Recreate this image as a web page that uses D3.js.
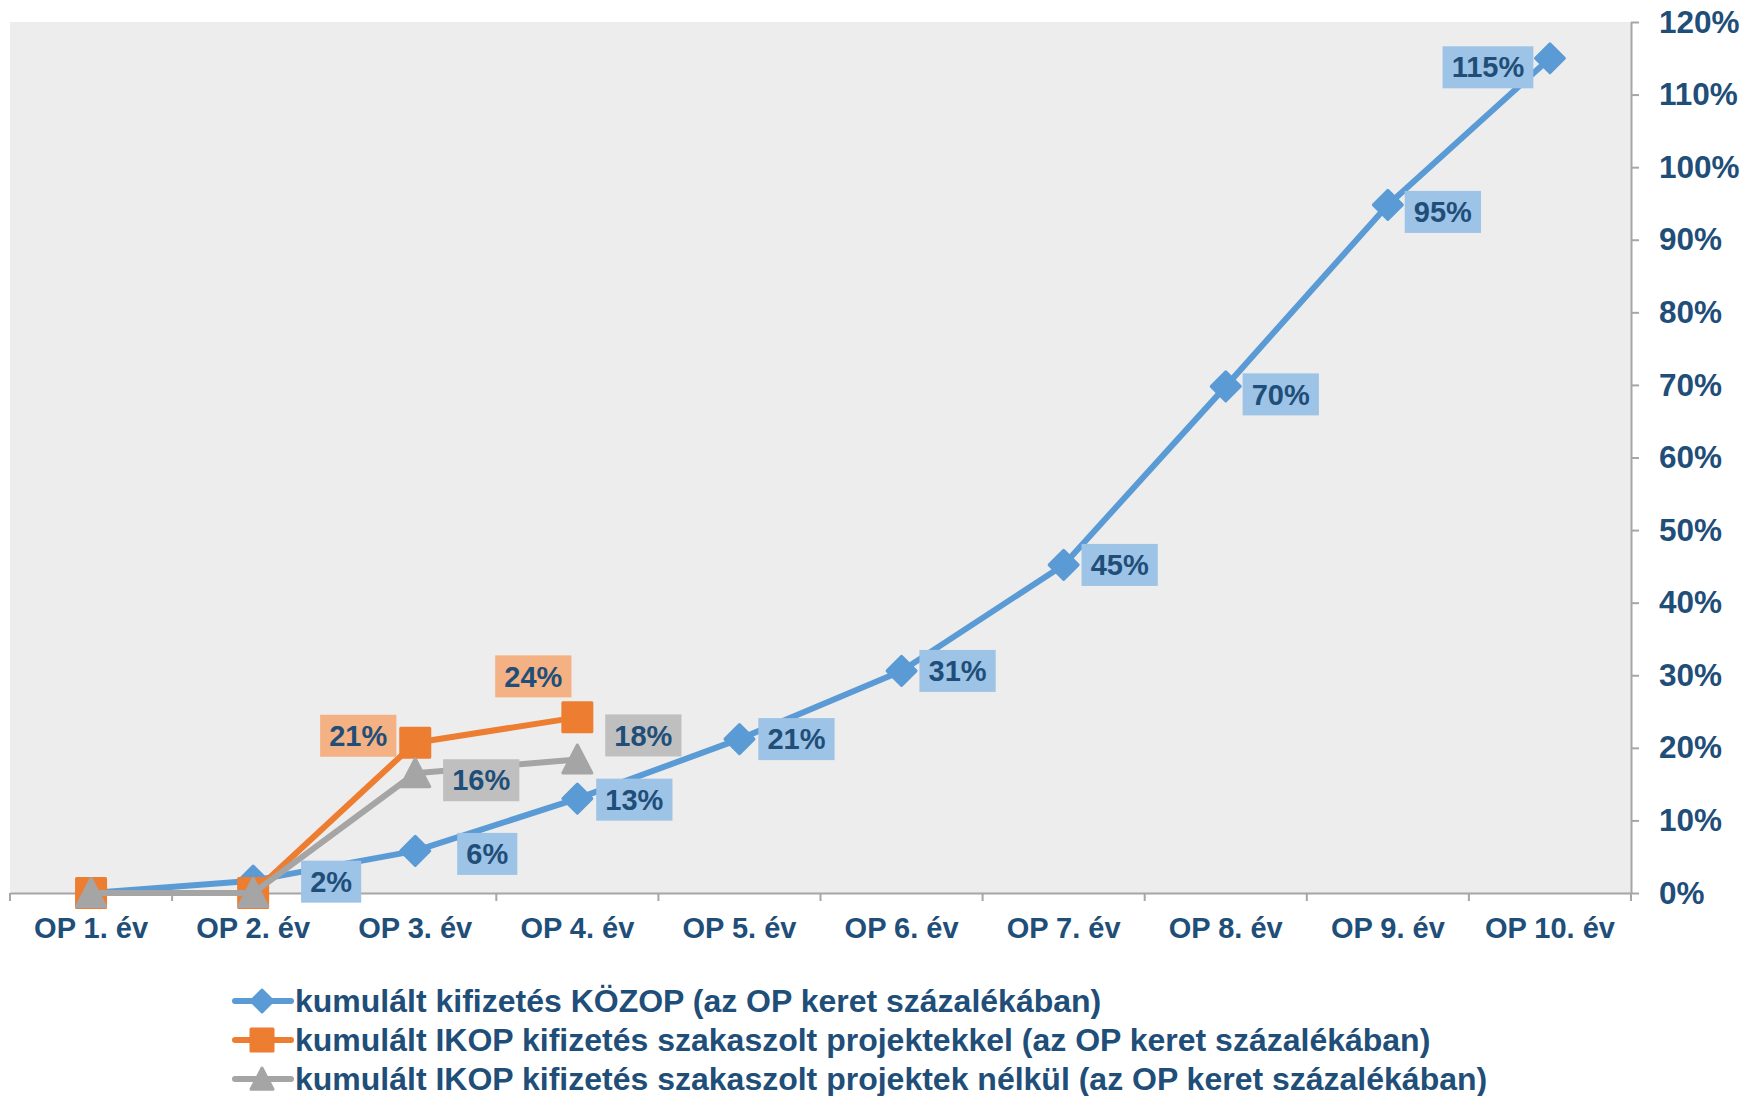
<!DOCTYPE html>
<html><head><meta charset="utf-8">
<script src="https://cdn.jsdelivr.net/npm/d3@7"></script>
<style>
html,body{margin:0;padding:0;background:#fff;}
svg{display:block;}
text{font-family:"Liberation Sans",Arial,sans-serif;font-weight:bold;fill:#1F4E79;}
</style></head>
<body><svg id="c" width="1758" height="1096"></svg>
<script>
// ---- data ----
const categories = ["OP 1. év","OP 2. év","OP 3. év","OP 4. év","OP 5. év","OP 6. év","OP 7. év","OP 8. év","OP 9. év","OP 10. év"];
const kozop = [0, 0.017, 0.058, 0.130, 0.212, 0.306, 0.452, 0.698, 0.948, 1.150];
const ikopWith = [0, 0, 0.207, 0.242];
const ikopWithout = [0, 0, 0.165, 0.184];
const kozopLabels = [null,"2%","6%","13%","21%","31%","45%","70%","95%","115%"];
const ikopWithLabels = [null,null,"21%","24%"];
const ikopWithoutLabels = [null,null,"16%","18%"];
const yTicks = [0,0.1,0.2,0.3,0.4,0.5,0.6,0.7,0.8,0.9,1.0,1.1,1.2];
const seriesNames = [
  "kumulált kifizetés KÖZOP (az OP keret százalékában)",
  "kumulált IKOP kifizetés szakaszolt projektekkel (az OP keret százalékában)",
  "kumulált IKOP kifizetés szakaszolt projektek nélkül (az OP keret százalékában)"
];

// ---- layout / style ----
const plot = {left:10, right:1631, top:22, bottom:893};
const series = [
  {values:kozop, labels:kozopLabels, color:"#5B9BD5", fill:"#9DC3E6", marker:"diamond",
   offsets:[null,[78,1],[72,3],[57,1],[57,0],[56,0],[56,0],[55,8],[55,7],[-62,9]]},
  {values:ikopWith, labels:ikopWithLabels, color:"#ED7D31", fill:"#F4B183", marker:"square",
   offsets:[null,null,[-57,-7],[-44,-41]]},
  {values:ikopWithout, labels:ikopWithoutLabels, color:"#A5A5A5", fill:"#BFBFBF", marker:"triangle",
   offsets:[null,null,[66,7],[66,-24]]}
];

const svg = d3.select("#c");
const x = d3.scaleBand().domain(categories).range([plot.left, plot.right]);
const y = d3.scaleLinear().domain([0,1.2]).range([plot.bottom, plot.top]);
const cx = c => x(c) + x.bandwidth()/2;

svg.append("rect").attr("x",plot.left).attr("y",plot.top)
  .attr("width",plot.right-plot.left).attr("height",plot.bottom-plot.top).attr("fill","#EDEDED");

// x axis
const xAxis = svg.append("g").attr("transform",`translate(0,${plot.bottom})`)
  .call(d3.axisBottom(x).tickSize(0).tickPadding(24));
xAxis.select(".domain").attr("stroke","#A6A6A6").attr("stroke-width",2);
xAxis.selectAll("text").style("font-size","29px").attr("fill","#1F4E79");
// x tick marks at band edges
const edges = categories.map(c=>x(c)).concat([plot.right]);
svg.append("g").selectAll("line").data(edges).join("line")
  .attr("x1",d=>d).attr("x2",d=>d).attr("y1",plot.bottom).attr("y2",plot.bottom+8)
  .attr("stroke","#A6A6A6").attr("stroke-width",2);

// y axis (right)
const yAxis = svg.append("g").attr("transform",`translate(${plot.right},0)`)
  .call(d3.axisRight(y).tickValues(yTicks).tickFormat(d3.format(".0%")).tickSizeInner(8).tickSizeOuter(0).tickPadding(20));
yAxis.selectAll("line").attr("stroke","#A6A6A6").attr("stroke-width",2);
yAxis.select(".domain").attr("stroke","#A6A6A6").attr("stroke-width",2);
yAxis.selectAll("text").style("font-size","31.5px").attr("fill","#1F4E79");

function markerPath(type, h){
  if(type==="diamond"){ return `M0,${-h}L${h},0L0,${h}L${-h},0Z`; }
  if(type==="square"){ return `M${-h},${-h}H${h}V${h}H${-h}Z`; }
  return `M0,${-h}L${h},${h*0.93}L${-h},${h*0.93}Z`;
}

const line = d3.line().x((d,i)=>cx(categories[i])).y(d=>y(d));
series.forEach(s=>{
  svg.append("path").datum(s.values).attr("d",line).attr("fill","none")
    .attr("stroke",s.color).attr("stroke-width",6).attr("stroke-linejoin","round");
  svg.append("g").selectAll("path").data(s.values).join("path")
    .attr("transform",(d,i)=>`translate(${cx(categories[i])},${y(d)})`)
    .attr("d",markerPath(s.marker,14.5)).attr("fill",s.color).attr("stroke",s.color)
    .attr("stroke-width",3).attr("stroke-linejoin","round");
});

// data labels
series.forEach(s=>{
  s.values.forEach((v,i)=>{
    if(!s.labels[i]) return;
    const [dx,dy] = s.offsets[i];
    const px = cx(categories[i])+dx, py = y(v)+dy;
    const g = svg.append("g").attr("transform",`translate(${px},${py})`);
    const t = g.append("text").attr("text-anchor","middle").attr("dy","0.35em")
      .style("font-size","29px").text(s.labels[i]);
    const bb = t.node().getBBox();
    g.insert("rect","text").attr("x",-bb.width/2-9).attr("y",-21)
      .attr("width",bb.width+18).attr("height",42).attr("fill",s.fill);
  });
});

// legend
const legY = [1001,1040,1079];
series.forEach((s,i)=>{
  const g = svg.append("g").attr("transform",`translate(0,${legY[i]})`);
  g.append("line").attr("x1",235).attr("x2",291).attr("y1",0).attr("y2",0)
    .attr("stroke",s.color).attr("stroke-width",6).attr("stroke-linecap","round");
  g.append("path").attr("transform","translate(262,0)").attr("d",markerPath(s.marker,11))
    .attr("fill",s.color).attr("stroke",s.color).attr("stroke-width",3).attr("stroke-linejoin","round");
  g.append("text").attr("x",295).attr("dy","0.35em").style("font-size","32px").text(seriesNames[i]);
});
</script></body></html>
